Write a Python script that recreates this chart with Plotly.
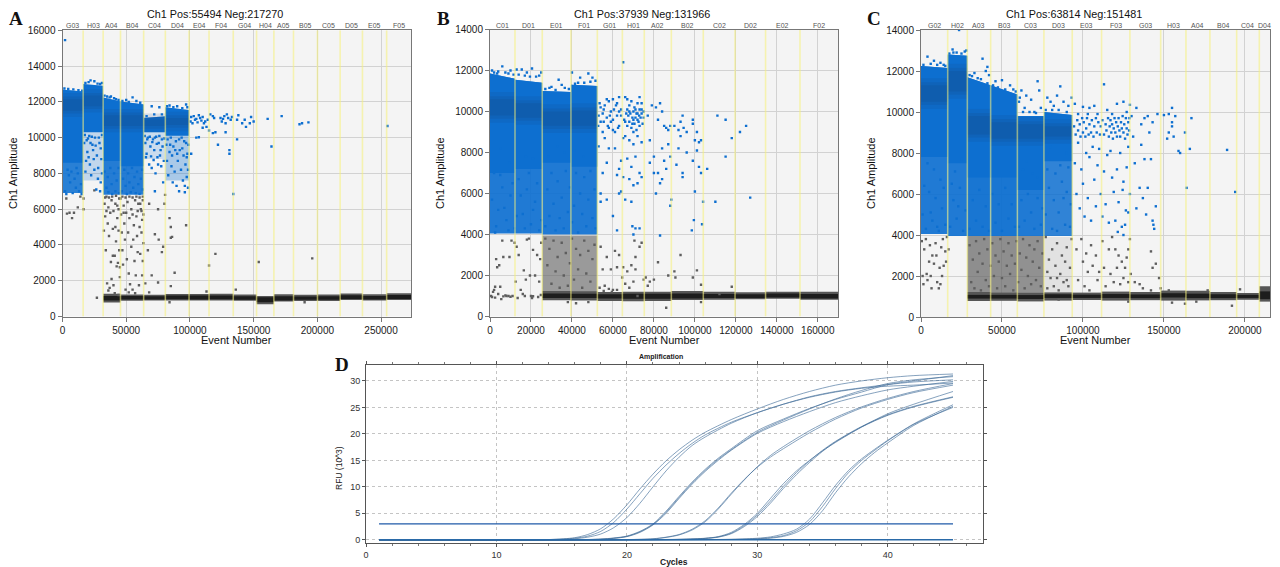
import plotly.graph_objects as go

# ---------------- Droplet panels: well layout ----------------
A_TITLE = "Ch1 Pos:55494 Neg:217270"
B_TITLE = "Ch1 Pos:37939 Neg:131966"
C_TITLE = "Ch1 Pos:63814 Neg:151481"

A_WELLS = ["G03","H03","A04","B04","C04","D04","E04","F04","G04","H04","A05","B05","C05","D05","E05","F05"]
B_WELLS = ["C01","D01","E01","F01","G01","H01","A02","B02","C02","D02","E02","F02"]
C_WELLS = ["G02","H02","A03","B03","C03","D03","E03","F03","G03","H03","A04","B04","C04","D04"]

A_EDGES = [0,16200,31900,45500,63700,80700,99300,115000,134000,152300,165900,181300,200100,217900,235400,254400,273500]
B_EDGES = [0,12200,25500,39500,52400,64600,75300,88500,104100,119600,134500,151300,170000]
C_EDGES = [0,16500,28600,43000,59500,75900,93400,111500,129000,148000,163600,178400,194900,208900,215500]

# per well: (top at start, top at end, solid-cloud floor or None, scattered-cloud floor, scattered-cloud coverage)
A_POS = [(12680,12580,8600,6900,0.88),(13000,12900,10300,7600,0.22),(12250,12020,8700,6800,0.9),(12020,11850,8400,6800,0.9),
         (11100,11200,10300,8800,0.18),(11700,11550,10100,7600,0.32)]
B_POS = [(11850,11600,7000,4050,0.92),(11550,11400,7200,4050,0.92),(11000,10950,7500,4000,0.92),(11300,11250,7300,4000,0.92)]
C_POS = [(12250,12150,7800,4050,0.92),(12800,12750,7500,3950,0.92),(11700,11300,6800,3950,0.95),(11300,10850,6800,3950,0.95),
         (9800,9800,6200,3950,0.92),(10000,9850,7600,3950,0.85)]
# dark core of each dense cloud: (low, high)
A_CORE = [(11500,12150),(11750,12350),(10650,11250),(10650,11250),(10650,11000),(10700,11100)]
B_CORE = [(9800,10600),(9700,10400),(9300,10000),(9300,10050)]
C_CORE = [(10500,11300),(11000,12000),(8900,9800),(8700,9500),(8700,9400),(8800,9300)]

# gray droplet clouds above the negative band: (well index, low, high, coverage)
A_GRAYBAND = []
B_GRAYBAND = [(2,1150,3950,0.62),(3,1150,3950,0.62)]
C_GRAYBAND = [(2,1100,3950,0.7),(3,1100,3950,0.7),(4,1100,3950,0.68),(5,1150,3900,0.12)]

# negative band per well: (well index, low, high, core low, core high)
A_NEG = [(2,780,1270,900,1150),(3,880,1230,950,1150),(4,890,1210,950,1130),(5,900,1260,960,1170),(6,900,1260,950,1170),(7,900,1270,970,1180),
         (8,880,1230,930,1130),(9,680,1150,800,1070),(10,840,1240,900,1130),(11,860,1210,930,1120),(12,870,1230,930,1130),(13,920,1290,980,1190),(14,890,1250,950,1150),(15,920,1300,980,1200)]
B_NEG = [(2,790,1250,900,1120),(3,780,1230,900,1110),(4,760,1200,880,1090),(5,740,1210,860,1110),(6,760,1210,860,1110),(7,800,1240,880,1120),
         (8,820,1210,900,1100),(9,840,1180,900,1080),(10,860,1210,930,1120),(11,820,1210,880,1100)]
C_NEG = [(2,780,1220,900,1080),(3,790,1190,900,1080),(4,760,1180,880,1070),(5,800,1200,930,1110),(6,830,1190,930,1090),(7,800,1240,930,1120),
         (8,820,1220,920,1100),(9,800,1290,950,1160),(10,810,1280,920,1140),(11,820,1220,920,1110),(12,840,1170,930,1080),(13,750,1500,870,1250)]

# ---------------- Droplet panels: individually read droplets (x in events, y in amplitude) ----------------
A_BLUE = [(2000,15450),(100500,10900),(101000,11150),(102000,10800),(103000,11200),(104000,11000),(105000,11050),(106000,10850),(107000,11250),
 (108000,11100),(109000,10950),(110000,11150),(111000,10800),(112000,10900),(113000,10600),(114000,11000),(115000,10400),(116000,11300),(118000,11200),
 (119000,11100),(120000,10300),(105000,10000),(107000,10020),(110000,10550),(101000,9100),(124000,11100),(125000,10900),(126000,11050),(127000,11200),
 (128000,10800),(129000,11300),(130000,11100),(132000,11000),(133000,11150),(137000,11000),(138000,11250),(141000,10800),(143000,11000),(144000,10600),
 (147000,10800),(148000,11150),(150000,10900),(161000,11050),(172000,11200),(186000,10750),(188000,10800),(193000,10850),(255000,10650),(122000,9600),
 (128000,10300),(131000,9300),(131000,9100),(137000,9900),(164000,9500),(134000,6850),(118000,10250),
 (2000,7000),(4000,8200),(3000,6850),(6000,7500),(7000,8100),(8000,6900),(9500,7700),(10500,7200),(12000,8000),(13000,7000),(14500,7400),(15000,6850),(11000,8300),(5000,7900),
 (17000,9700),(18500,8700),(19500,9200),(21000,10100),(21500,8500),(22500,7900),(23500,9600),(24500,8800),(25500,10000),(26500,7100),(27000,9000),(28000,8300),(29000,9700),(30000,7500),(30500,8800),(29500,7000),(20000,9950),(24000,9300),
 (17500,10150),(19000,9850),(22000,9700),(23000,10050),(26000,9550),(28500,10000),(30000,9400),(31000,10150),(18000,8100),(20500,8900),(25000,8200),(27800,7700),(31000,8000),
 (33000,8100),(34500,7200),(35500,7800),(36000,6950),(37500,8300),(38500,7400),(39000,6850),(40500,8000),(41500,7000),(42500,7600),(44000,8300),(44500,6900),
 (46500,7000),(47500,7700),(48500,8200),(49500,7300),(50500,6850),(51500,8000),(52500,7500),(53500,6950),(54500,8300),(55500,7200),(56500,7800),(57500,6900),(58500,8100),(59500,7400),(60500,6850),(61500,7700),(62500,8200),(63000,7100),
 (65000,9700),(66000,9100),(67000,10000),(68000,8500),(69000,9500),(70000,8300),(71000,9900),(72000,9300),(73000,8000),(73500,10050),(74500,8900),(75500,9700),(76500,9000),(77500,8400),(78000,9900),(79000,7500),(79500,8700),(72500,7000),
 (64500,10100),(66500,9900),(68500,10050),(70500,9750),(72500,10000),(74000,9650),(76000,10100),(78500,9500),(80000,9950),(65500,8900),(69500,8950),(71500,8750),(75000,8500),(77000,9300),
 (81500,9600),(82000,8700),(83000,7900),(84000,9200),(85000,10000),(85500,8400),(86500,7500),(87000,9500),(88000,8100),(89000,9800),(89500,7300),(90500,8700),(91500,7000),(92000,9300),(93000,8200),(93500,10000),(94500,7600),(95000,9000),(96000,6950),(96500,8500),(97000,9700),(97500,7800),(98000,9100),(98500,7200),(96000,7300),
 (82500,9900),(84500,9600),(86000,9000),(88500,9300),(90000,9100),(91500,9900),(94000,9400),(95500,9800),(97500,8900),(98800,9600),(98500,8200),
 (25000,13150),(22000,13200),(31000,13050),(33000,12350),(38000,12300),(55000,12250),(42000,12150),(50000,12100),(70000,11750),(76000,11700),(84000,11800),(90000,11750),(97000,11850),(98000,11700),
 (1500,12750),(4500,12720),(8500,12700),(12500,12650),(15500,12620),(18000,13050),(20500,13100),(27500,13020),(29500,13000),(35000,12300),(37000,12250),(40500,12200),(44000,12100),(47000,12050),(52000,12000),(58000,12050),(61000,11950),(66000,11200),(72000,11300),(78000,11300),(82000,11750),(87000,11700),(94000,11650)]
A_GRAY = [(3000,6600),(3500,5750),(5500,5800),(7500,5500),(9000,5800),(12000,6100),(14000,6700),(16500,6600),(16500,6000),(27000,1050),(25000,7050),
 (32500,4800),(33000,6300),(33500,5600),(34000,3700),(34500,6700),(35000,1850),(35500,5200),(36000,6100),(36500,4500),(37000,1600),(37500,5800),(38000,3050),(38500,2100),(38500,6500),(39500,3400),(39500,4900),(40000,5900),(40000,1750),(41000,3400),(41500,6300),(41500,5000),(42000,4200),(42500,2800),(43000,5500),(43500,3000),(44000,6000),(44000,4800),(44500,3700),(45000,2750),(45000,2200),(45500,6600),
 (46000,5700),(46500,4700),(47000,3700),(47500,2900),(48000,6200),(48500,5200),(49000,4300),(49500,1500),(50000,5800),(50500,3200),(51000,6400),(51500,4700),(52000,2400),(52500,5500),(53000,1800),(54000,3900),(54000,6000),(55000,1500),(55500,4300),(56000,5100),(56500,3100),(57000,6500),(57500,2300),(58000,5600),(58500,4500),(59000,3600),(59500,6300),(60000,1750),(60500,5000),(61000,3500),(61500,6000),(62000,4700),(62500,2300),(62500,5400),(63000,3100),(63000,6500),(63500,4100),(63500,5700),
 (65000,1850),(67000,3700),(68000,6300),(70000,2300),(72500,4600),(75000,1900),(75500,4300),(75000,6000),(78000,3600),(79000,3900),(80000,6300),(80500,6800),(84000,5500),(85000,4400),(86000,4450),(85000,5000),(85000,1700),(88000,2450),(97000,5100),(113000,1400),(115000,2850),(120000,3500),(136000,1500),(154000,3050),(196000,3250),
 (36000,1450),(41000,1300),(44000,1200),(52000,1350),(57000,1300),(68000,1350),(84000,800),(190000,800),
 (33500,6650),(36500,6650),(39000,6700),(42000,6750),(44500,6600),(47000,6700),(49500,6650),(52500,6700),(55000,6650),(58000,6700),(60500,6650),(63000,6700),(62000,5900),(61000,6300),(59000,5900),(55000,5700),(48000,5800),(43000,6200),(34500,5900)]

B_BLUE = [(1000,12000),(6000,12200),(4000,11950),(10000,12000),(13000,12050),(15500,12050),(20500,12100),(18000,11900),(25000,11900),(24000,11750),(33500,11550),(40000,11900),(48000,11850),(50000,11650),(44000,11650),(35000,11300),(30000,11200),
 (53000,9800),(54000,10200),(54000,9500),(55000,9000),(56000,10300),(56000,8700),(57000,9700),(58000,10500),(58000,9200),(59000,10000),(60000,10600),(60000,9600),(61000,9000),(61000,8200),(62000,10400),(62000,9800),(63000,10700),(63000,9300),(64000,10100),
 (53500,10400),(55000,9900),(55500,10100),(57000,10600),(57500,9300),(59000,9500),(60500,10100),(61500,10300),(62500,9200),(64000,9800),(52800,9300),(55500,9500),(58500,9800),(60000,9100),(63000,10000),
 (65000,12400),(65000,8700),(64000,7600),(63000,7200),(62000,6900),(65000,6800),(64000,6100),(63000,6000),(58000,8200),(57000,7500),(55000,7000),(53000,8300),(54000,6000),(57000,5700),(54000,5600),(60000,4900),(62000,4200),
 (66000,10700),(67000,10600),(68000,10300),(69000,10500),(70000,9000),(71000,10100),(72000,10400),(73000,10700),(74000,10400),(75000,10000),(66000,8800),(68000,8600),(70000,8400),(72000,8800),(74000,8500),(67000,7700),(69000,7300),(71000,7800),(73000,7000),(68000,6700),(70000,6400),(72000,6500),(74000,6800),(66000,5700),(69000,5600),(71000,4300),(70000,4000),(69500,4400),(73000,4300),
 (65500,9600),(66500,9900),(67000,9300),(67500,9800),(68000,9500),(68500,9900),(69000,9200),(69500,9700),(70000,10000),(70500,9400),(71000,9700),(71500,9100),(72000,9900),(72500,9500),(73000,10100),(73500,9700),(74000,9900),(74500,9400),(75000,9700),(68000,10000),(70000,9600),(72000,9600),(74000,10100),(69500,9400),(71500,9900),(73000,9300),(67000,10100),(66000,9500),(70500,10200),(72800,9800),
 (77000,9800),(78000,8600),(79000,10300),(80000,7800),(81000,10200),(82000,9600),(83000,10400),(84000,10000),(85000,9300),(86000,9200),(87000,9100),(88000,9300),(78000,7500),(80000,7000),(82000,7000),(84000,6700),(86000,7200),(88000,7800),(81000,6000),(83000,6500),(84000,8200),(87000,8400),(85000,7600),(88500,5700),(88000,5400),(83000,3950),
 (90000,9300),(91000,7400),(92000,9100),(93000,9500),(94000,9800),(94500,9200),(93000,8800),(92000,8200),(96000,8000),(96000,9000),(94000,7000),(94000,6800),(99000,9600),(99000,9400),(100000,8600),(101000,9000),(101000,8100),(102000,8500),(103000,8600),(99000,7600),(102000,7300),(103000,7000),(106000,7200),(100000,6100),(104000,5600),(99500,4700),(98500,4200),(103500,4500),(110000,5600),
 (111000,9800),(115000,9600),(118000,8700),(122000,9000),(125000,9300),(115000,7800),(127000,5800),
 (2000,7000),(4000,5200),(6000,6300),(8000,4700),(10000,5900),(12000,4300),(14000,6700),(16000,5000),(18000,6200),(20000,4500),(22000,5600),(24000,4200),(1000,5700),(3000,4400),(5000,6900),(7000,5300),(9000,4200),(11000,6500),(13000,4900),(15000,5900),(17000,4300),(19000,7000),(21000,5200),(23000,6500),(25000,4700),(2500,4100),(9500,7500),(17500,7800),(5000,8200),(21000,7700),
 (27000,4400),(28000,6200),(29000,4900),(30000,7000),(31000,5500),(32000,4200),(33000,6600),(34000,4800),(35000,5800),(36000,4300),(37000,7100),(38000,5100),(39000,6300),(40000,4600),(41000,5400),(42000,7000),(43000,4100),(44000,6000),(45000,5000),(46000,6800),(47000,4400),(48000,5700),(49000,7100),(50000,4800),(51000,6200),(51500,4300),(28500,7800),(36500,8000),(45500,7800),(33000,8300),(41000,8100),
 (2000,11900),(3500,11850),(7500,11900),(9000,11850),(11500,11800),(14000,11800),(17000,11750),(19500,11700),(22500,11700),(27000,11100),(29000,11150),(32000,11050),(36500,11150),(38500,11100),(41500,11350),(43000,11400),(46000,11400),(49000,11450),(51500,11500)]
B_GRAY = [(500,1000),(1500,1200),(2000,1300),(2500,1450),(3000,2800),(3500,2400),(4500,2500),(4000,1100),(5000,1450),(5500,850),(6000,3700),(6500,2900),(8000,1000),(9000,1000),(9500,2900),(10500,3700),(11000,1000),(12000,3600),(12500,1700),(13000,3400),(13500,900),(14000,3000),(15000,1300),(16000,1100),(16500,2250),(17500,1800),(18000,3750),(19000,3800),(19500,2000),(20000,1000),(20500,900),(21000,3250),(22000,2000),(23000,3000),(24000,1700),(24500,2800),(25000,3600),
 (27000,3800),(28000,2500),(29000,3300),(30000,1600),(31000,3700),(32000,2200),(33000,2900),(34000,1400),(35000,3600),(36000,2000),(37000,3100),(38000,1500),(39000,2600),(40000,3800),(41000,1800),(42000,3300),(43000,2300),(44000,3000),(45000,1400),(46000,3700),(47000,2100),(48000,3200),(49000,1700),(50000,2800),(51000,3500),(38000,700),(42000,650),(48000,700),
 (54000,3400),(55000,2300),(56000,1500),(57000,2900),(59000,2300),(60000,1300),(61000,3200),(62000,2400),(63000,3000),(64500,1900),(65000,2400),(66000,1600),(67000,2200),(68000,1400),(69000,2500),(70000,1700),(70500,3700),(71000,2300),(72000,1000),(73000,3400),(74000,3600),(75000,1800),(76000,1900),(77000,1500),(78000,1700),(80000,1800),(82000,2650),(86000,430),(87000,2000),(90000,2200),(90500,1900),(93000,3000),(99000,1900),(101000,2250),(103000,1550),(103000,700),(118000,1450),(112000,1100),(71000,2900),
 (1000,950),(2500,920),(6500,980),(7500,1030),(10000,960),(17000,1000),(21000,990),(23500,950),(24800,1050),(53500,1400),(55500,1250),(58000,1350),(59500,1200),(62000,1300)]

C_BLUE = [(4000,12700),(8000,12500),(12000,12400),(14000,12300),(20000,12900),(19500,13050),(23500,14000),(27000,12950),(28000,13000),(33000,11900),(38000,12600),(41000,12200),(42000,11800),(41000,11400),(40000,12000),(46000,11500),(50000,11550),(55000,11300),(57000,11100),(62000,11050),(65000,10800),(68000,10600),(61000,10700),(73000,11050),(78000,10700),(74000,10200),(72000,11500),(80000,10500),(84000,10800),(86000,11250),(88000,10500),(91000,10300),(93000,10700),(82000,10300),(64000,10200),(70000,10000),
 (95000,10400),(97000,9900),(100000,10250),(104000,10200),(103000,9900),(107000,10300),(109000,9900),(113000,11350),(115000,10100),(118000,9900),(121000,10400),(125000,10500),(127000,10000),(129000,10350),(130000,9800),(133000,10200),(136000,9400),(138000,9700),(140000,9800),(143000,9500),(146000,9900),(150000,9850),(153000,9900),(155000,10200),(157000,9800),(155000,9500),(155000,9300),(153000,9000),(152000,8700),(156000,8800),(159000,8100),(160000,8000),(163000,9000),(166000,8200),(167000,9700),(189000,8150),(194000,6100),(164000,6300),
 (94500,9300),(95500,8900),(96500,9600),(97000,9100),(98000,9400),(98500,8800),(99500,9700),(100000,9000),(100500,9500),(101500,8800),(102000,9200),(102500,9700),(103500,8900),(104000,9400),(105000,9000),(105500,9600),(106500,8800),(107000,9300),(108000,9700),(108500,9000),(109500,9500),(110500,8900),(111000,9300),(112000,9600),
 (113000,8900),(114000,9400),(114500,9100),(115500,9700),(116000,8800),(116500,9300),(117000,9600),(117500,9000),(118000,9400),(118500,8700),(119000,9200),(119500,9700),(120000,9000),(120500,9500),(121000,8800),(121500,9300),(122000,9700),(122500,9100),(123000,8800),(123500,9500),(124000,9200),(124500,9800),(125000,9000),(125500,9400),(126000,8700),(126500,9700),(127000,9200),(127500,8900),(128000,9500),(128500,9100),(128700,9700),
 (95000,7500),(96000,6000),(97000,8500),(98000,5300),(99000,7200),(100000,6500),(101000,4900),(102000,8000),(103000,5800),(104000,7800),(105000,4700),(106000,8300),(107000,6700),(108000,5400),(109000,7400),(110000,8200),(111000,6000),(112000,4900),(113000,7100),(114000,5500),(115000,7900),(116000,4600),(117000,8100),(118000,6800),(119000,6100),(120000,4700),(121000,7200),(122000,5600),(123000,8000),(124000,4400),(125000,6600),(126000,4500),(127000,7300),(128000,5100),(129000,6000),(128000,8300),(124500,6200),(126500,5200),(121500,4150),(125000,4000),
 (131000,8800),(132000,7500),(133000,5300),(135000,6300),(136000,8400),(137000,5800),(138000,7700),(139000,5000),(140000,6300),(141000,9000),(142000,7700),(143000,4700),(143500,4500),(144000,4300),(145000,5400),
 (1000,5000),(3000,4300),(5000,6100),(7000,4700),(9000,5800),(11000,4200),(13000,5300),(15000,4500),(2000,6400),(6000,5100),(10000,4400),(14000,6300),(4000,7500),(8000,7200),(12000,6700),
 (18000,4400),(20000,5700),(22000,4800),(24000,6300),(26000,4200),(27500,5200),(19000,6500),(23000,5400),(21000,7100),(25000,7700),
 (30000,4300),(32000,5700),(34000,4700),(36000,6200),(38000,4400),(40000,5400),(42000,4200),(44000,6000),(46000,4600),(48000,5500),(50000,4200),(52000,6300),(54000,4800),(56000,5500),(58000,4400),
 (60500,4400),(62000,5700),(64000,4700),(66000,6000),(68000,5100),(70000,4300),(72000,5800),(74000,4500),(69000,7000),(65000,7600),(72000,6800),(63000,7200),(75000,5300),
 (77000,5000),(79000,6300),(81000,4300),(83000,7000),(85000,5100),(87000,6600),(89000,4500),(91000,7300),(92500,5500),(78000,7200),(82000,5700),(86000,7400),(88000,5800),(90000,6100),(84000,4200),(92000,4400),(80000,8300),(90000,8000),
 (1500,12300),(6000,12350),(10000,12300),(15000,12250),(17500,12850),(22000,12900),(25000,12850),(30000,11800),(31500,11750),(35000,11650),(37000,11600),(44500,11300),(47500,11200),(52000,11100),(58500,11000),(60500,10500),(63000,10000),(67000,10000),(71000,9950),(77000,10100),(81000,10100),(85000,10100),(90000,10000)]
C_GRAY = [(500,3700),(1000,2000),(1500,1600),(2000,3300),(3000,3800),(3500,2100),(4000,1800),(5000,2700),(5500,3500),(6000,2000),(6500,1400),(7000,3000),(8000,2600),(9000,3600),(9500,3000),(10000,1700),(11000,1400),(11500,2400),(12000,1600),(12500,3400),(13000,2000),(13500,3800),(14000,2500),(15000,3200),(15500,2700),(16000,3900),(17000,3300),
 (30000,3500),(31000,1700),(32000,2800),(33000,1400),(34000,3700),(35000,2200),(36000,3100),(37000,1300),(38000,2600),(39000,3800),(40000,1800),(41000,3300),(42000,1500),(43000,2500),(44000,3600),(45000,2000),(46000,3000),(47000,1400),(48000,2700),(49000,3800),(50000,1900),(51000,3200),(52000,1500),(53000,2500),(54000,3600),(55000,2100),(56000,3000),(57000,1300),(58000,2600),(59000,3700),(60000,1700),(61000,3100),(62000,2300),(63000,3800),(64000,1400),(65000,2900),(66000,2000),(67000,3500),(68000,1600),(69000,2700),(70000,3300),(71000,1800),(72000,3700),(73000,2400),(74000,1500),(75000,3100),
 (77000,3900),(78000,1400),(79000,2800),(80000,1900),(81000,3300),(82000,1500),(83000,2500),(84000,3600),(85000,1300),(86000,2100),(87000,3000),(88000,1700),(89000,2700),(90000,3400),(91000,1500),(92000,2400),(93000,3800),(78000,2200),(84000,1900),(90000,1800),
 (96000,3300),(97000,1800),(99000,3800),(100000,2700),(101000,1500),(102000,3100),(103000,2200),(104000,1300),(105000,3500),(106000,2500),(108000,3000),(109000,1800),(110000,2200),(112000,3700),(113000,2400),(114000,1500),(116000,3300),(117000,2100),(118000,3900),(119000,1700),(120000,3300),(121000,2400),(122000,3000),(123000,1600),(124000,2700),(125000,1900),(126000,2400),(127000,2900),(128000,1700),(128000,3300),(129000,3800),(129500,2100),
 (132000,1700),(135000,1600),(137000,1400),(142000,1300),(142000,3200),(143000,2400),(145000,2600),(147000,1900),(148000,1400),(153000,1300),(155000,700),(163000,650),(170000,750),(177000,1300),(192000,550),(197000,1350),(128000,750),(85000,850)]

# ---------------- Amplification panel ----------------
D_TITLE = "Amplification"
AMP_CURVES = [
 ([1,14,16,17,18,19,20,21,22,23,24,25,26,28,30,32,34,36,38,40,42,45],[0,0.05,0.4,1,2.1,4,6.6,9.6,12.4,14.9,17,18.8,20.3,22.7,24.7,26.5,28,29.2,30,30.6,31,31.3]),
 ([1,14,16,17,18,19,20,21,22,23,24,25,26,28,30,32,34,36,38,40,42,45],[0,0.05,0.3,0.7,1.6,3.3,5.8,8.7,11.6,14.1,16.3,18.2,19.8,22.2,24,25.6,27,28,28.7,29.3,29.8,30.2]),
 ([1,14,16,17,18,19,20,21,22,23,24,25,26,28,30,32,34,36,38,40,42,45],[0,0,0.2,0.5,1.1,2.3,4.2,6.9,10,13,15.6,17.8,19.4,22,24,25.6,26.9,27.9,28.6,29,29.2,29.6]),
 ([1,16,18,19,20,21,22,23,24,25,26,27,28,30,32,34,36,38,40,42,45],[0,0.02,0.15,0.35,0.7,1.6,3,5.4,8.2,10.9,13.3,15.4,17.2,20.6,22.8,24.8,26.5,27.9,29.3,30,31]),
 ([1,16,18,19,20,21,22,23,24,25,26,27,28,30,32,34,36,38,40,42,45],[0,0.02,0.12,0.3,0.65,1.5,2.9,5.2,8,10.7,13.1,15.2,17,20.3,22.6,24.7,26.6,28.2,29.5,30.2,30.8]),
 ([1,16,18,19,20,21,22,23,24,25,26,27,28,30,32,34,36,38,40,42,45],[0,0.02,0.1,0.27,0.6,1.4,2.8,5,7.8,10.5,12.9,15,16.9,20.1,22.3,24.2,25.9,27.2,28.3,29,29.9]),
 ([1,20,22,23,24,25,26,27,28,29,30,31,32,34,36,38,40,42,45],[0,0.05,0.2,0.5,1,2,3.6,6,8.8,11.4,13.7,15.6,17.2,20.2,22.8,24.9,26.5,27.8,29.2]),
 ([1,20,22,23,24,25,26,27,28,29,30,31,32,34,36,38,40,42,45],[0,0.04,0.17,0.45,0.92,1.85,3.4,5.8,8.6,11.3,13.8,15.9,17.6,20.6,23.1,25.1,26.7,28,29.5]),
 ([1,24,26,27,28,29,30,31,32,33,34,35,36,38,40,42,45],[0,0.1,0.3,0.6,1.4,2.9,5,7.8,10.6,13,15,16.8,18.4,21.3,23.8,25.6,28]),
 ([1,24,26,27,28,29,30,31,32,33,34,35,36,38,40,42,45],[0,0.08,0.27,0.55,1.25,2.7,4.7,7.3,10.1,12.7,14.9,16.9,18.6,21.4,23.6,25.2,27]),
 ([1,24,26,27,28,29,30,31,32,33,34,35,36,38,40,42,45],[0,0.07,0.25,0.5,1.15,2.5,4.4,6.9,9.7,12.3,14.6,16.7,18.5,21.3,23.5,25.1,26.9]),
 ([1,28,30,31,32,33,34,35,36,37,38,39,40,42,45],[0,0.1,0.3,0.55,1.1,2,3.9,7,10.3,13.1,15.3,17.1,18.8,21.9,25.5]),
 ([1,28,30,31,32,33,34,35,36,37,38,39,40,42,45],[0,0.08,0.2,0.4,0.8,1.7,3.4,6.3,9.7,12.7,15,16.9,18.7,21.8,25]),
 ([1,28,30,31,32,33,34,35,36,37,38,39,40,42,45],[0,0.06,0.15,0.3,0.65,1.4,2.9,5.5,8.9,11.9,14.4,16.5,18.3,21.6,25.2]),
]
BASELINE_X = [1, 45]
BASELINE_Y = [0, 0]
THRESHOLD_X = [1, 45]
THRESHOLD_Y = [3, 3]

# ---------------- Styling and layout ----------------
W, H = 1280, 567
SANS = "Liberation Sans"
SERIF = "Liberation Serif"
BLUE = "#0d6fd0"
GRAY = "#5e5e5e"
YELLOW = "rgba(245,240,120,0.55)"

PANELS = [
 dict(n="", px=(62.5,411), py=(30.3,316.5), xmax=273500, ymax=16000, xd=50000, title=A_TITLE, tx=215, wells=A_WELLS, edges=A_EDGES, pos=A_POS, core=A_CORE, grayband=A_GRAYBAND, neg=A_NEG, blue=A_BLUE, gray=A_GRAY, letter="A", lx=16, ytx=13, xtx=236),
 dict(n="2", px=(490,838.3), py=(29.5,316.5), xmax=170000, ymax=14000, xd=20000, title=B_TITLE, tx=642, wells=B_WELLS, edges=B_EDGES, pos=B_POS, core=B_CORE, grayband=B_GRAYBAND, neg=B_NEG, blue=B_BLUE, gray=B_GRAY, letter="B", lx=443, ytx=440, xtx=664),
 dict(n="3", px=(921,1270), py=(30,317), xmax=215500, ymax=14000, xd=50000, title=C_TITLE, tx=1074, wells=C_WELLS, edges=C_EDGES, pos=C_POS, core=C_CORE, grayband=C_GRAYBAND, neg=C_NEG, blue=C_BLUE, gray=C_GRAY, letter="C", lx=874, ytx=871, xtx=1095),
]
D_PX, D_PY = (366, 983), (365, 543)

fig = go.Figure()
annotations = []


def xdom(p):
    return [p[0] / W, p[1] / W]


def ydom(p):
    return [1 - p[1] / H, 1 - p[0] / H]


def poly(xa, ya, l, r, lo, hi_l, hi_r, color):
    fig.add_trace(go.Scatter(x=[l, r, r, l, l], y=[lo, lo, hi_r, hi_l, lo], mode="lines", fill="toself",
                             fillcolor=color, line=dict(width=0), xaxis=xa, yaxis=ya, hoverinfo="skip", showlegend=False))


def note(text, px, py, font, **kw):
    annotations.append(dict(text=text, x=px / W, xref="paper", y=1 - py / H, yref="paper", xanchor="center", yanchor="middle",
                            showarrow=False, font=font, **kw))


for p in PANELS:
    n = p["n"]
    xa, ya = "x" + n, "y" + n
    e = p["edges"]
    for i, (t0, t1, solid, speck, cover) in enumerate(p["pos"]):
        poly(xa, ya, e[i], e[i + 1], speck, t0, t1, f"rgba(13,111,208,{cover})")
        poly(xa, ya, e[i], e[i + 1], solid, t0, t1, BLUE)
    for i, (lo, hi) in enumerate(p["core"]):
        poly(xa, ya, e[i], e[i + 1], lo - 350, hi + 350, hi + 350, "rgba(20,72,135,0.14)")
        poly(xa, ya, e[i], e[i + 1], lo - 150, hi + 150, hi + 150, "rgba(20,72,135,0.18)")
        poly(xa, ya, e[i], e[i + 1], lo, hi, hi, "rgba(20,72,135,0.22)")
    for i, lo, hi, cover in p["grayband"]:
        poly(xa, ya, e[i], e[i + 1], lo, hi, hi, f"rgba(98,98,98,{cover})")
    for idx, lo, hi, c_lo, c_hi in p["neg"]:
        poly(xa, ya, e[idx], e[idx + 1], lo, hi, hi, "#565656")
        poly(xa, ya, e[idx], e[idx + 1], c_lo, c_hi, c_hi, "#1d1d1d")
    for pts, col in ((p["gray"], GRAY), (p["blue"], BLUE)):
        fig.add_trace(go.Scatter(x=[q[0] for q in pts], y=[q[1] for q in pts], mode="markers",
                                 marker=dict(symbol="square", size=2.4, color=col, line=dict(width=0)),
                                 xaxis=xa, yaxis=ya, hoverinfo="skip", showlegend=False))
    vx, vy = [], []
    for edge in e[1:-1]:
        vx += [edge, edge, None]
        vy += [0, p["ymax"], None]
    fig.add_trace(go.Scatter(x=vx, y=vy, mode="lines", line=dict(color=YELLOW, width=1.6), xaxis=xa, yaxis=ya,
                             hoverinfo="skip", showlegend=False))
    axis_common = dict(automargin=False, showgrid=True, gridcolor="#d2d2d2", gridwidth=1, zeroline=False, showline=True, linecolor="#777777",
                       mirror=True, ticks="outside", ticklen=4, tickcolor="#777777", tickformat="d",
                       tickfont=dict(family=SANS, size=10, color="#1a1a1a"))
    fig.update_layout({
        "xaxis" + n: dict(domain=xdom(p["px"]), range=[0, p["xmax"]], dtick=p["xd"], tick0=0, anchor=ya, **axis_common),
        "yaxis" + n: dict(domain=ydom(p["py"]), range=[0, p["ymax"]], dtick=2000, tick0=0, anchor=xa, **axis_common),
    })
    for i, w in enumerate(p["wells"]):
        annotations.append(dict(text=w, x=(e[i] + e[i + 1]) / 2, xref=xa, y=1, yref=ya + " domain", yanchor="bottom", xanchor="center",
                                showarrow=False, borderpad=0, font=dict(family=SANS, size=7, color="#555555")))
    note(p["title"], p["tx"], 14.5, dict(family=SANS, size=10.8, color="#111111"))
    note("<b>" + p["letter"] + "</b>", p["lx"], 18, dict(family=SERIF, size=19, color="#111111"))
    note("Ch1 Amplitude", p["ytx"], 173, dict(family=SANS, size=11, color="#111111"), textangle=-90)
    note("Event Number", p["xtx"], 340, dict(family=SANS, size=11, color="#111111"))

# Panel D
for cx, cy in AMP_CURVES:
    fig.add_trace(go.Scatter(x=cx, y=cy, mode="lines",
                             line=dict(color="rgba(60,105,150,0.62)", width=1, shape="spline", smoothing=0.8),
                             xaxis="x4", yaxis="y4", hoverinfo="skip", showlegend=False))
fig.add_trace(go.Scatter(x=BASELINE_X, y=BASELINE_Y, mode="lines", line=dict(color="#2a6aa8", width=1.4), xaxis="x4", yaxis="y4",
                         hoverinfo="skip", showlegend=False))
fig.add_trace(go.Scatter(x=THRESHOLD_X, y=THRESHOLD_Y, mode="lines", line=dict(color="#1f5aa8", width=1.3), xaxis="x4", yaxis="y4",
                         hoverinfo="skip", showlegend=False))
d_common = dict(automargin=False, showgrid=True, griddash="dot", gridcolor="#c4c4c4", gridwidth=1, zeroline=False, showline=True, linecolor="#555555",
                mirror="ticks", ticks="outside", ticklen=3, tickcolor="#555555", tickfont=dict(family=SANS, size=9, color="#333333"))
fig.update_layout(
    xaxis4=dict(domain=xdom(D_PX), range=[0, 47.3], dtick=10, tick0=0, anchor="y4",
                minor=dict(dtick=2, ticks="outside", ticklen=2, tickcolor="#777777", showgrid=False), **d_common),
    yaxis4=dict(domain=ydom(D_PY), range=[-0.6, 33], dtick=5, tick0=0, anchor="x4", **d_common),
    shapes=[dict(type="rect", xref="x4 domain", yref="y4 domain", x0=0, x1=1, y0=0, y1=1, fillcolor="white", line=dict(width=0), layer="below")],
)
note("<b>" + D_TITLE + "</b>", 661, 357, dict(family=SANS, size=7, color="#222222"))
note("<b>Cycles</b>", 674, 562, dict(family=SANS, size=8.5, color="#222222"))
note("RFU (10^3)", 339, 468, dict(family=SANS, size=8.5, color="#222222"), textangle=-90)
note("<b>D</b>", 342, 364, dict(family=SERIF, size=19, color="#111111"))

fig.update_layout(width=W, height=H, autosize=False, margin=dict(l=0, r=0, t=0, b=0, autoexpand=False), paper_bgcolor="white", plot_bgcolor="#f4f4f4",
                  showlegend=False, annotations=annotations, hovermode=False)
fig.write_html("out.html", config=dict(displayModeBar=False),
               post_script="document.body.style.margin='0';document.body.style.overflow='hidden';")
